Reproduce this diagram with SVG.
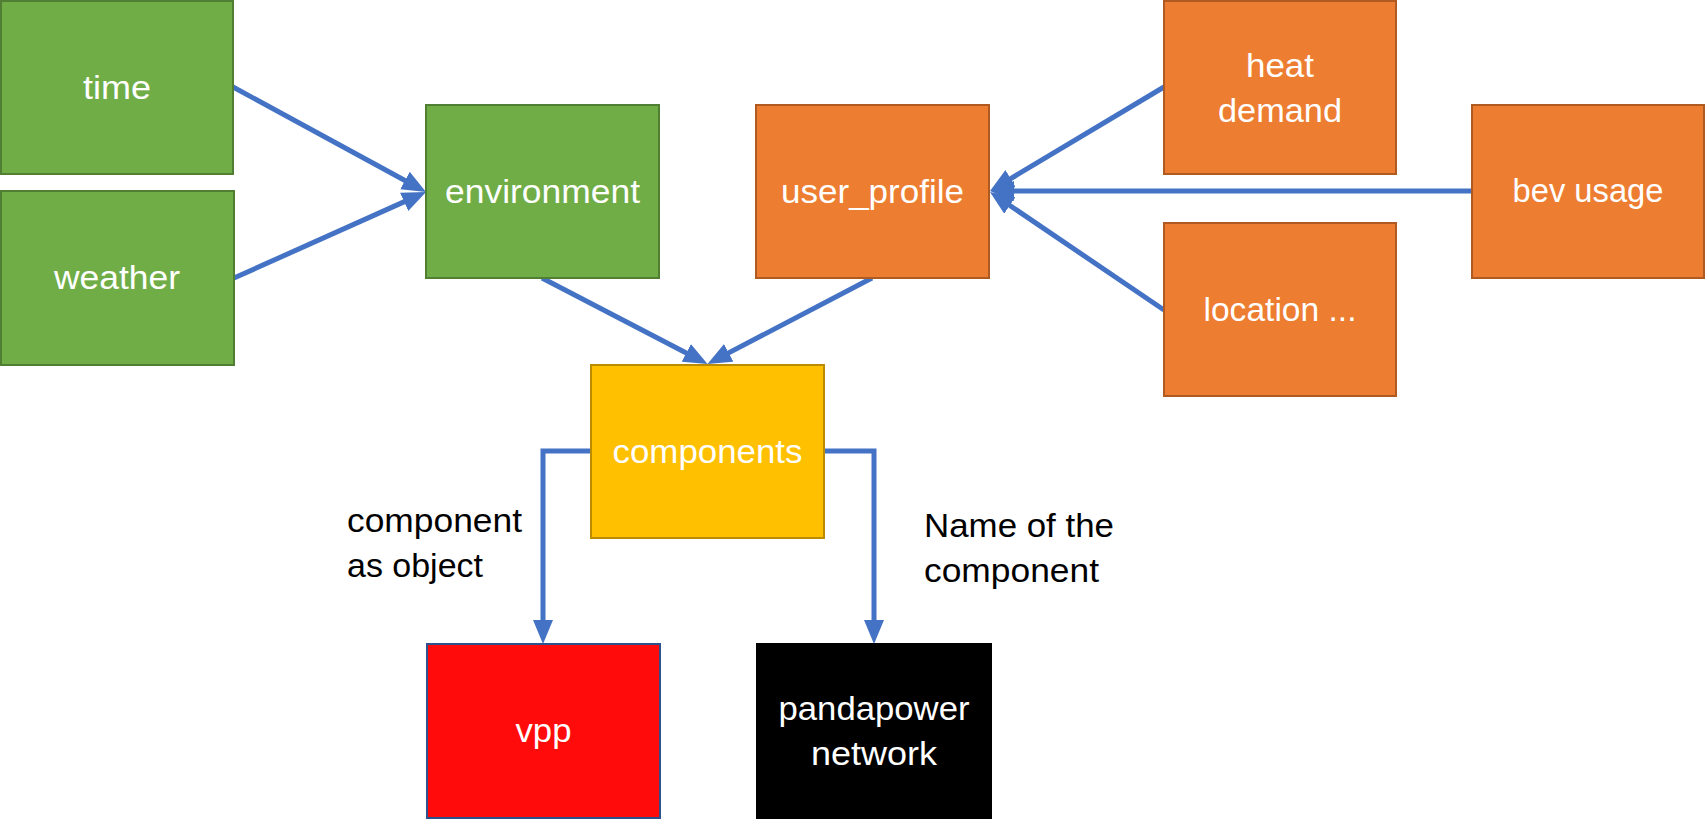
<svg xmlns="http://www.w3.org/2000/svg" width="1706" height="819" viewBox="0 0 1706 819">
<defs>
<style>
.box{stroke-width:2}
.green{fill:#70AD47;stroke:#507E32}
.orange{fill:#ED7D31;stroke:#AE5A21}
.yellow{fill:#FFC000;stroke:#BC8C00}
.red{fill:#FF0B0B;stroke:#2F528F}
.black{fill:#000;stroke:#000}
text{font-family:"Liberation Sans",Arial,sans-serif;font-size:34px}
.w{fill:#fff;text-anchor:middle}
.k{fill:#000}
.conn{fill:none;stroke:#4472C4;stroke-width:5}
</style>
<marker id="arr" viewBox="0 0 24 20" refX="12" refY="10" markerWidth="24" markerHeight="20" markerUnits="userSpaceOnUse" orient="auto">
<path d="M0,0 L24,10 L0,20 z" fill="#4472C4"/>
</marker>
</defs>
<rect width="1706" height="819" fill="#fff"/>
<g id="connectors">
<path class="conn" d="M233,87 L415.5,186.3" marker-end="url(#arr)"/>
<path class="conn" d="M234,278 L415.1,196.9" marker-end="url(#arr)"/>
<path class="conn" d="M542,278 L696.9,358.5" marker-end="url(#arr)"/>
<path class="conn" d="M872,278 L718.1,358.4" marker-end="url(#arr)"/>
<path class="conn" d="M1164,87 L1000.3,184.8" marker-end="url(#arr)"/>
<path class="conn" d="M1472,191 L1002,191" marker-end="url(#arr)"/>
<path class="conn" d="M1164,310 L999.9,198.7" marker-end="url(#arr)"/>
<path class="conn" d="M591,451 H543 V632" marker-end="url(#arr)"/>
<path class="conn" d="M824,451 H874 V632" marker-end="url(#arr)"/>
</g>
<g id="time"><rect class="box green" x="1" y="1" width="232" height="173"/><text class="w" x="117" y="99" textLength="68" lengthAdjust="spacingAndGlyphs">time</text></g>
<g id="weather"><rect class="box green" x="1" y="191" width="233" height="174"/><text class="w" x="117" y="289" textLength="126" lengthAdjust="spacingAndGlyphs">weather</text></g>
<g id="environment"><rect class="box green" x="426" y="105" width="233" height="173"/><text class="w" x="542.5" y="203" textLength="195" lengthAdjust="spacingAndGlyphs">environment</text></g>
<g id="user_profile"><rect class="box orange" x="756" y="105" width="233" height="173"/><text class="w" x="872.5" y="203" textLength="183" lengthAdjust="spacingAndGlyphs">user_profile</text></g>
<g id="heat_demand"><rect class="box orange" x="1164" y="1" width="232" height="173"/><text class="w" x="1280" y="77" textLength="68" lengthAdjust="spacingAndGlyphs">heat</text><text class="w" x="1280" y="122" textLength="124" lengthAdjust="spacingAndGlyphs">demand</text></g>
<g id="bev_usage"><rect class="box orange" x="1472" y="105" width="232" height="173"/><text class="w" x="1588" y="202" textLength="151" lengthAdjust="spacingAndGlyphs">bev usage</text></g>
<g id="location"><rect class="box orange" x="1164" y="223" width="232" height="173"/><text class="w" x="1280" y="321" textLength="153" lengthAdjust="spacingAndGlyphs">location ...</text></g>
<g id="components"><rect class="box yellow" x="591" y="365" width="233" height="173"/><text class="w" x="707.5" y="463" textLength="190" lengthAdjust="spacingAndGlyphs">components</text></g>
<g id="vpp"><rect class="box red" x="427" y="644" width="233" height="174"/><text class="w" x="543.5" y="742" textLength="56" lengthAdjust="spacingAndGlyphs">vpp</text></g>
<g id="pandapower"><rect class="box black" x="757" y="644" width="234" height="175"/><text class="w" x="874" y="720" textLength="191" lengthAdjust="spacingAndGlyphs">pandapower</text><text class="w" x="874" y="765" textLength="126" lengthAdjust="spacingAndGlyphs">network</text></g>
<g id="labels">
<text class="k" x="347" y="532" textLength="175" lengthAdjust="spacingAndGlyphs">component</text>
<text class="k" x="347" y="577" textLength="136" lengthAdjust="spacingAndGlyphs">as object</text>
<text class="k" x="924" y="537" textLength="190" lengthAdjust="spacingAndGlyphs">Name of the</text>
<text class="k" x="924" y="582" textLength="175" lengthAdjust="spacingAndGlyphs">component</text>
</g>
</svg>
